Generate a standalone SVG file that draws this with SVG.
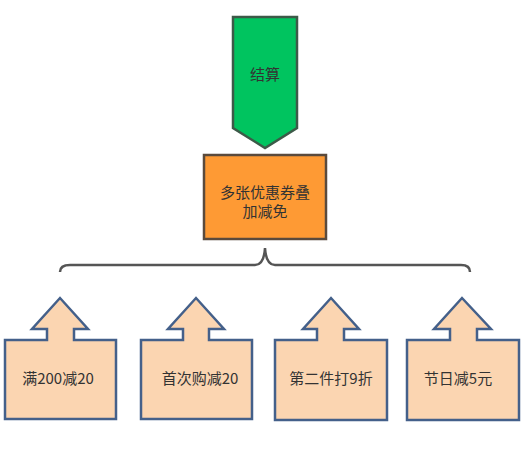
<svg xmlns="http://www.w3.org/2000/svg" width="522" height="450" viewBox="0 0 522 450">
<style>
text{font-family:"Noto Sans CJK SC","Microsoft YaHei",sans-serif;font-size:15px;fill:#333;text-anchor:middle;dominant-baseline:central}
.tag{fill:#fbd5b1;stroke:#44608a;stroke-width:2.5;stroke-linejoin:miter}
</style>
<rect width="522" height="450" fill="#fff"/>
<g id="settle">
<polygon points="233,17 297,17 297,128 265,148 233,128" fill="#00c45f" stroke="#3c5a48" stroke-width="2.5"/>
<text x="265" y="73">结算</text>
</g>
<g id="stack">
<rect x="204" y="155" width="122" height="84" fill="#fe9a34" stroke="#5a4a3c" stroke-width="2.5"/>
<text x="265" y="191">多张优惠券叠</text>
<text x="265" y="210">加减免</text>
</g>
<g id="connectors">
<path d="M60,272 Q60,265 70,265 L255,265 Q264,265 265,248 Q266,265 275,265 L461,265 Q470,265 470,272" fill="none" stroke="#555" stroke-width="2.5"/>
</g>
<g id="n1">
<polygon class="tag" points="5,340 47,340 47,329 32,329 60,298 88,329 74,329 74,340 116,340 116,419 5,419"/>
<text x="58" y="377">满200减20</text>
</g>
<g id="n2">
<polygon class="tag" points="141,340 183,340 183,329 168,329 196,298 224,329 209,329 209,340 252,340 252,419 141,419"/>
<text x="200" y="377">首次购减20</text>
</g>
<g id="n3">
<polygon class="tag" points="275,340 317,340 317,329 303,329 331,298 359,329 344,329 344,340 387,340 387,420 275,420"/>
<text x="331" y="377">第二件打9折</text>
</g>
<g id="n4">
<polygon class="tag" points="407,340 450,340 450,329 434,329 462,298 491,329 477,329 477,340 519,340 519,420 407,420"/>
<text x="458" y="377">节日减5元</text>
</g>
</svg>
